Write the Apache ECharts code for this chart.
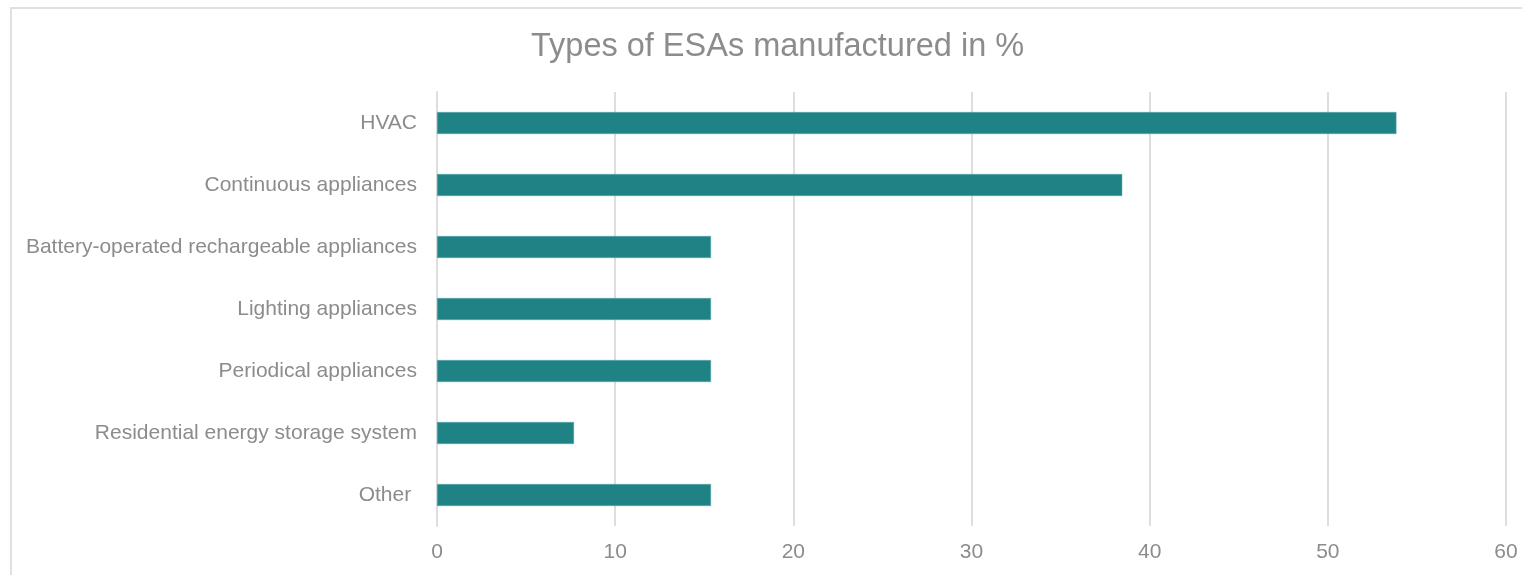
<!DOCTYPE html>
<html>
<head>
<meta charset="utf-8">
<script src="https://cdn.jsdelivr.net/npm/echarts@6/dist/echarts.min.js"></script>
<style>
  html, body { margin: 0; padding: 0; background: #ffffff; }
  #frame { position: absolute; left: 10px; top: 7px; width: 1530px; height: 580px; border: 2px solid #e0e0e0; box-sizing: border-box; }
  #chart { position: absolute; left: 0; top: 0; width: 1522px; height: 575px; }
</style>
</head>
<body>
<div id="frame"></div>
<div id="chart"></div>
<script>
// Categories listed top to bottom
const categories = [
  'HVAC',
  'Continuous appliances',
  'Battery-operated rechargeable appliances',
  'Lighting appliances',
  'Periodical appliances',
  'Residential energy storage system',
  'Other '
];
// Share of manufacturers, %
const shares = [53.85, 38.46, 15.38, 15.38, 15.38, 7.69, 15.38];
const xTicks = [0, 10, 20, 30, 40, 50, 60];

const chart = echarts.init(document.getElementById('chart'));
const fontFamily = '"Liberation Sans", Arial, sans-serif';
chart.setOption({
  animation: false,
  backgroundColor: 'transparent',
  title: {
    text: 'Types of ESAs manufactured in %',
    left: 526,
    top: 26,
    textStyle: { fontFamily, fontSize: 32.5, fontWeight: 'normal', color: '#8c8c8c' }
  },
  grid: { left: 437, right: 16, top: 92, bottom: 49, containLabel: false },
  xAxis: {
    type: 'value',
    min: xTicks[0],
    max: xTicks[xTicks.length - 1],
    interval: 10,
    axisLine: { show: false },
    axisTick: { show: false },
    splitLine: { lineStyle: { color: '#dedede', width: 2 } },
    axisLabel: { fontFamily, fontSize: 21, color: '#8c8c8c', margin: 16 }
  },
  yAxis: {
    type: 'category',
    data: categories,
    inverse: true,
    axisLine: { show: true, lineStyle: { color: '#dedede', width: 2 } },
    axisTick: { show: false },
    axisLabel: { fontFamily, fontSize: 21, color: '#8c8c8c', margin: 20 }
  },
  series: [{
    type: 'bar',
    data: shares,
    barWidth: 22,
    itemStyle: { color: '#1f8386', borderColor: '#5fa9ab', borderWidth: 0.5 }
  }]
});
</script>
</body>
</html>
